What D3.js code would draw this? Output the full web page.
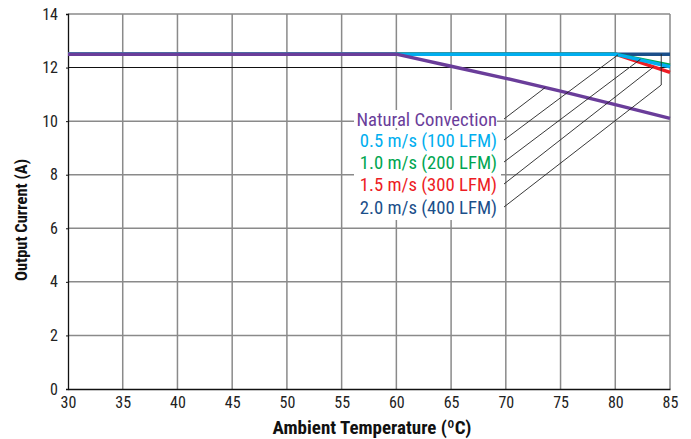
<!DOCTYPE html>
<html><head><meta charset="utf-8">
<script src="https://cdn.jsdelivr.net/npm/d3@7"></script>
<style>
body{margin:0;background:#fff}
svg{display:block}
</style></head><body>
<svg id="chart" width="691" height="439"></svg>
<script>
const temps = [30, 60, 65, 70, 75, 80, 85];
const natural = [12.5, 12.5, 12.05, 11.6, 11.12, 10.62, 10.1];
const ms05 = [12.5, 12.5, 12.5, 12.5, 12.5, 12.5, 12.03];
const ms10 = [12.5, 12.5, 12.5, 12.5, 12.5, 12.5, 12.09];
const ms15 = [12.5, 12.5, 12.5, 12.5, 12.5, 12.5, 11.82];
const ms20 = [12.5, 12.5, 12.5, 12.5, 12.5, 12.5, 12.5];
const seriesNames = ["Natural Convection", "0.5 m/s (100 LFM)", "1.0 m/s (200 LFM)", "1.5 m/s (300 LFM)", "2.0 m/s (400 LFM)"];
const seriesColors = ["#6a3d9a", "#00aeef", "#00a651", "#ed1c24", "#1b4f8a"];
const xTicks = [30, 35, 40, 45, 50, 55, 60, 65, 70, 75, 80, 85];
const yTicks = [0, 2, 4, 6, 8, 10, 12, 14];
// leader targets (temperature on each curve)
const leaderTemps = [73.6, 80.25, 82.3, 83.5, 84.2];

const W = 691, H = 439;
const m = {left: 68, right: 21, top: 14, bottom: 50};
const svg = d3.select("#chart");
const x = d3.scaleLinear().domain([30, 85]).range([m.left, W - m.right]);
const y = d3.scaleLinear().domain([0, 14]).range([H - m.bottom, m.top]);
const font = "'Liberation Sans Narrow', 'Roboto Condensed', 'Arial Narrow', Roboto, sans-serif";

// gridlines
const g = svg.append("g");
g.selectAll("line.v").data(xTicks.slice(1)).join("line")
  .attr("x1", d => x(d)).attr("x2", d => x(d)).attr("y1", y(14)).attr("y2", y(0))
  .attr("stroke", "#8a8a8a").attr("stroke-width", 1.5);
g.selectAll("line.h").data(yTicks.filter(d => d > 0 && d !== 12)).join("line")
  .attr("x1", x(30)).attr("x2", x(85)).attr("y1", d => y(d)).attr("y2", d => y(d))
  .attr("stroke", "#8a8a8a").attr("stroke-width", 1.5);
g.append("line").attr("x1", x(30)).attr("x2", x(85)).attr("y1", y(12)).attr("y2", y(12))
  .attr("stroke", "#111").attr("stroke-width", 1.1);

// axes
const xAxis = d3.axisBottom(x).tickValues(xTicks).tickSize(0).tickPadding(8);
const yAxis = d3.axisLeft(y).tickValues(yTicks).tickSize(2).tickPadding(8);
const xa = svg.append("g").attr("transform", `translate(0,${y(0)})`).call(xAxis);
const ya = svg.append("g").attr("transform", `translate(${x(30)},0)`).call(yAxis);
[xa, ya].forEach(a => {
  a.select(".domain").attr("stroke", "#111").attr("stroke-width", 1.3);
  a.selectAll(".tick line").attr("stroke", "#111");
  a.selectAll("text").attr("font-family", font).attr("font-size", 16).attr("fill", "#222");
});

// series
const allSeries = [natural, ms05, ms10, ms15, ms20];
const line = d3.line().x((d, i) => x(temps[i])).y(d => y(d));
function valAt(arr, t) {
  return d3.scaleLinear().domain(temps).range(arr)(t);
}
// draw order: dark blue, red, green, light blue, purple
[4, 3, 2, 1, 0].forEach(k => {
  svg.append("path").datum(allSeries[k]).attr("d", line)
    .attr("fill", "none").attr("stroke", seriesColors[k]).attr("stroke-width", 3.4);
});

// labels with white boxes
const labelRight = 497, labelLeft = 354;
const labelY = [119, 140, 162, 184, 207];
svg.append("rect").attr("x", labelLeft).attr("y", 130).attr("width", labelRight - labelLeft + 4).attr("height", 90).attr("fill", "#fff");
svg.append("rect").attr("x", labelLeft).attr("y", 110).attr("width", labelRight - labelLeft).attr("height", 18).attr("fill", "#fff");

// leader lines
const lx = 504;
seriesNames.forEach((n, k) => {
  const tx = x(leaderTemps[k]);
  if (k < 4) {
    svg.append("line").attr("x1", lx).attr("y1", labelY[k]).attr("x2", tx).attr("y2", y(valAt(allSeries[k], leaderTemps[k])))
      .attr("stroke", "#222").attr("stroke-width", 0.9);
  } else {
    const by = 85;
    svg.append("polyline").attr("points", `${lx},${labelY[k]} ${tx},${by} ${tx},${y(valAt(allSeries[k], leaderTemps[k]))}`)
      .attr("fill", "none").attr("stroke", "#222").attr("stroke-width", 0.9);
  }
});

svg.selectAll("text.lbl").data(seriesNames).join("text")
  .attr("class", "lbl").attr("x", labelRight).attr("y", (d, i) => labelY[i])
  .attr("dy", "0.35em").attr("text-anchor", "end")
  .attr("font-family", font).attr("font-size", 18.7)
  .attr("fill", (d, i) => seriesColors[i]).text(d => d);

// axis titles
svg.append("text").attr("x", 372).attr("y", 434).attr("text-anchor", "middle")
  .attr("font-family", font).attr("font-weight", "bold").attr("font-size", 19).attr("fill", "#111")
  .text("Ambient Temperature (ºC)");
svg.append("text").attr("transform", "translate(27,220) rotate(-90)").attr("text-anchor", "middle")
  .attr("font-family", font).attr("font-weight", "bold").attr("font-size", 16.5).attr("fill", "#111")
  .text("Output Current (A)");
</script>
</body></html>
